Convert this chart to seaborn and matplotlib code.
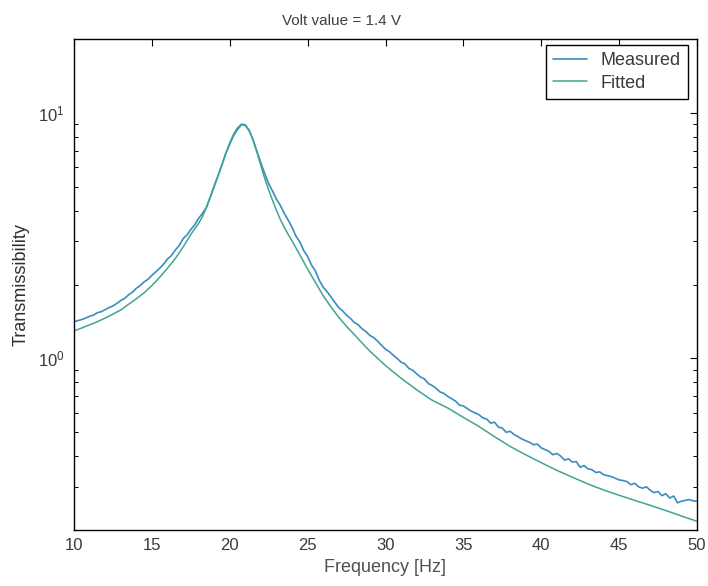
import numpy as np
import pandas as pd
import seaborn as sns
import matplotlib
matplotlib.use("Agg")
import matplotlib.pyplot as plt
from matplotlib.ticker import NullLocator, LogLocator

# ---------------- data ----------------
meas_freq = np.linspace(10, 50, 161)
meas_vals = [
    1.41, 1.425, 1.44, 1.46,
    1.485, 1.50, 1.535, 1.55,
    1.58, 1.61, 1.635, 1.675,
    1.72, 1.755, 1.815, 1.86,
    1.93, 1.98, 2.05, 2.10,
    2.18, 2.25, 2.33, 2.42,
    2.54, 2.62, 2.76, 2.88,
    3.07, 3.18, 3.35, 3.50,
    3.72, 3.90, 4.12, 4.55,
    5.05, 5.55, 6.15, 6.85,
    7.45, 8.10, 8.55, 8.95,
    8.90, 8.45, 7.75, 6.95,
    6.25, 5.65, 5.15, 4.80,
    4.45, 4.20, 3.90, 3.66,
    3.42, 3.15, 2.98, 2.75,
    2.60, 2.40, 2.27, 2.08,
    1.95, 1.87, 1.78, 1.69,
    1.61, 1.56, 1.50, 1.455,
    1.40, 1.37, 1.32, 1.285,
    1.24, 1.215, 1.175, 1.13,
    1.09, 1.065, 1.03, 1.00,
    0.965, 0.95, 0.91, 0.895,
    0.865, 0.84, 0.825, 0.79,
    0.775, 0.755, 0.73, 0.72,
    0.70, 0.685, 0.67, 0.645,
    0.64, 0.625, 0.61, 0.60,
    0.59, 0.572, 0.566, 0.545,
    0.55, 0.525, 0.52, 0.50,
    0.505, 0.49, 0.48, 0.47,
    0.462, 0.455, 0.445, 0.448,
    0.432, 0.425, 0.418, 0.405,
    0.41, 0.40, 0.385, 0.39,
    0.378, 0.38, 0.36, 0.366,
    0.355, 0.352, 0.343, 0.345,
    0.336, 0.333, 0.33, 0.325,
    0.32, 0.318, 0.315, 0.306,
    0.31, 0.30, 0.296, 0.30,
    0.29, 0.284, 0.287, 0.276,
    0.281, 0.27, 0.275, 0.258,
    0.262, 0.264, 0.266, 0.263,
    0.262,
]

fit_freq = [10, 10.5, 11, 11.5, 12, 12.5, 13, 13.5, 14, 14.5, 15, 15.5, 16, 16.5,
            17, 17.5, 18, 18.25, 18.5, 18.75, 19, 19.25, 19.5, 19.75, 20, 20.25,
            20.5, 20.75, 21, 21.25, 21.5, 21.75, 22, 22.25, 22.5, 22.75, 23, 23.25,
            23.5, 23.75, 24, 24.5, 25, 25.5, 26, 26.5, 27, 27.5, 28, 28.5, 29, 29.5,
            30, 31, 32, 33, 34, 35, 36, 37, 38, 39, 40, 41, 42, 43, 44, 45, 46, 47,
            48, 49, 50]
fit_vals = [1.295, 1.33, 1.37, 1.41, 1.46, 1.515, 1.575, 1.66, 1.75, 1.85, 1.98, 2.14,
            2.33, 2.55, 2.84, 3.20, 3.55, 3.78, 4.12, 4.52, 5.0, 5.55, 6.15, 6.85,
            7.55, 8.2, 8.7, 9.0, 8.95, 8.5, 7.75, 6.9, 6.1, 5.4, 4.85, 4.4, 4.0,
            3.68, 3.42, 3.20, 3.01, 2.64, 2.31, 2.04, 1.80, 1.62, 1.47, 1.35, 1.25,
            1.155, 1.07, 1.0, 0.935, 0.83, 0.745, 0.675, 0.628, 0.575, 0.528, 0.48,
            0.438, 0.405, 0.376, 0.350, 0.328, 0.308, 0.291, 0.277, 0.264, 0.252,
            0.240, 0.228, 0.217]

x_ticks = [10, 15, 20, 25, 30, 35, 40, 45, 50]
title_text = "Volt value = 1.4 V"
x_label = "Frequency [Hz]"
y_label = "Transmissibility"
series_names = ["Measured", "Fitted"]

# ---------------- plotting ----------------
sns.set_theme(style="white")
plt.rcParams["font.family"] = ["Liberation Sans", "DejaVu Sans"]
plt.rcParams["mathtext.default"] = "regular"

fig = plt.figure(figsize=(7.08, 5.86), dpi=100)
ax = fig.add_axes([74 / 708, 1 - 530 / 586, 623 / 708, 491 / 586])

meas_df = pd.DataFrame({"f": meas_freq, "T": meas_vals})
fit_df = pd.DataFrame({"f": fit_freq, "T": fit_vals})

sns.lineplot(data=meas_df, x="f", y="T", ax=ax, color="#3a8cc0", lw=1.2,
             label=series_names[0], estimator=None, sort=False)
sns.lineplot(data=fit_df, x="f", y="T", ax=ax, color="#3fa592", lw=1.1,
             label=series_names[1], estimator=None, sort=False)

ax.set_yscale("log")
ax.set_xlim(10, 50)
ax.set_ylim(0.2, 20)
ax.set_xticks(x_ticks)
ax.xaxis.set_minor_locator(NullLocator())
ax.yaxis.set_major_locator(LogLocator(base=10))
ax.yaxis.set_minor_locator(LogLocator(base=10, subs=np.arange(2, 10)))

text_col = "#3a3a3a"
ax.tick_params(axis="both", which="major", direction="in", top=True, right=True,
               length=5, width=0.8, color="black", labelsize=12, labelcolor=text_col)
ax.tick_params(axis="y", which="minor", direction="in", left=True, right=True,
               length=3, width=0.7, color="black")
ax.tick_params(axis="x", which="major", pad=6)
ax.tick_params(axis="y", which="major", pad=7)

for s in ax.spines.values():
    s.set_color("black")
    s.set_linewidth(1.0)
    s.set_visible(True)

ax.set_xlabel(x_label, fontsize=13, color="#505050", labelpad=4)
ax.set_ylabel(y_label, fontsize=13, color="#303030", labelpad=6)
ax.set_title(title_text, fontsize=11, color="#404040", pad=10, x=0.43)

leg = ax.legend(loc="upper right", bbox_to_anchor=(0.986, 0.988), borderaxespad=0,
                fontsize=13, frameon=True, fancybox=False, framealpha=1,
                edgecolor="black", handlelength=1.9, borderpad=0.4,
                labelspacing=0.3, handletextpad=0.75)
leg.get_frame().set_linewidth(1.0)
for t in leg.get_texts():
    t.set_color(text_col)

fig.savefig("out.png", dpi=100)
